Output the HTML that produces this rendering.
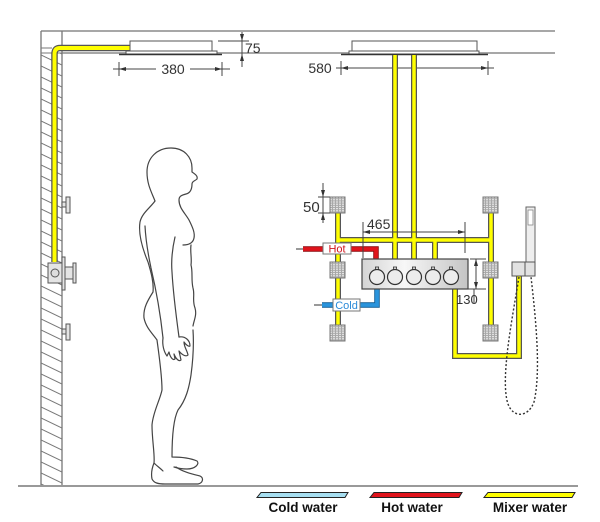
<!DOCTYPE html>
<html><head><meta charset="utf-8"><style>
html,body{margin:0;padding:0;background:#fff;}
svg{display:block;}
text{font-family:"Liberation Sans",Arial,sans-serif;}
</style></head><body>
<svg width="600" height="522" viewBox="0 0 600 522" xmlns="http://www.w3.org/2000/svg">
<defs>
<clipPath id="wallclip"><rect x="41" y="53" width="21" height="433"/></clipPath>
<linearGradient id="vg" x1="0" y1="0" x2="1" y2="0">
<stop offset="0" stop-color="#d4d4d4"/><stop offset="0.4" stop-color="#f7f7f7"/><stop offset="1" stop-color="#c4c4c4"/>
</linearGradient>
<pattern id="jetp" x="0" y="0" width="3" height="2.2" patternUnits="userSpaceOnUse">
<rect width="3" height="2.2" fill="#a8a8a8"/><rect width="2" height="1.2" fill="#e6e6e6"/>
</pattern>
<g id="jet"><rect x="0" y="0" width="15" height="16" fill="url(#jetp)" stroke="#777" stroke-width="1"/></g>
<g id="knob"><rect x="-1.6" y="-10" width="3.2" height="3" fill="#ddd" stroke="#333" stroke-width="0.8"/><circle cx="0" cy="0" r="7.5" fill="#ececec" stroke="#333" stroke-width="1.2"/></g>
</defs>

<!-- ceiling -->
<line x1="41" y1="31" x2="555" y2="31" stroke="#8a8a8a" stroke-width="1.5"/>
<line x1="62" y1="53" x2="555" y2="53" stroke="#8a8a8a" stroke-width="1.5"/>
<!-- wall -->
<line x1="41" y1="31" x2="41" y2="486" stroke="#777" stroke-width="1.3"/>
<line x1="62" y1="31" x2="62" y2="486" stroke="#777" stroke-width="1.3"/>
<line x1="41" y1="48" x2="52" y2="48" stroke="#777" stroke-width="1"/>
<line x1="41" y1="53" x2="62" y2="53" stroke="#777" stroke-width="1"/>
<g clip-path="url(#wallclip)" stroke="#777" stroke-width="1">
<line x1="41" y1="44" x2="62" y2="54"/><line x1="41" y1="55" x2="62" y2="65"/><line x1="41" y1="66" x2="62" y2="76"/><line x1="41" y1="77" x2="62" y2="87"/><line x1="41" y1="88" x2="62" y2="98"/><line x1="41" y1="99" x2="62" y2="109"/><line x1="41" y1="110" x2="62" y2="120"/><line x1="41" y1="121" x2="62" y2="131"/><line x1="41" y1="132" x2="62" y2="142"/><line x1="41" y1="143" x2="62" y2="153"/><line x1="41" y1="154" x2="62" y2="164"/><line x1="41" y1="165" x2="62" y2="175"/><line x1="41" y1="176" x2="62" y2="186"/><line x1="41" y1="187" x2="62" y2="197"/><line x1="41" y1="198" x2="62" y2="208"/><line x1="41" y1="209" x2="62" y2="219"/><line x1="41" y1="220" x2="62" y2="230"/><line x1="41" y1="231" x2="62" y2="241"/><line x1="41" y1="242" x2="62" y2="252"/><line x1="41" y1="253" x2="62" y2="263"/><line x1="41" y1="264" x2="62" y2="274"/><line x1="41" y1="275" x2="62" y2="285"/><line x1="41" y1="286" x2="62" y2="296"/><line x1="41" y1="297" x2="62" y2="307"/><line x1="41" y1="308" x2="62" y2="318"/><line x1="41" y1="319" x2="62" y2="329"/><line x1="41" y1="330" x2="62" y2="340"/><line x1="41" y1="341" x2="62" y2="351"/><line x1="41" y1="352" x2="62" y2="362"/><line x1="41" y1="363" x2="62" y2="373"/><line x1="41" y1="374" x2="62" y2="384"/><line x1="41" y1="385" x2="62" y2="395"/><line x1="41" y1="396" x2="62" y2="406"/><line x1="41" y1="407" x2="62" y2="417"/><line x1="41" y1="418" x2="62" y2="428"/><line x1="41" y1="429" x2="62" y2="439"/><line x1="41" y1="440" x2="62" y2="450"/><line x1="41" y1="451" x2="62" y2="461"/><line x1="41" y1="462" x2="62" y2="472"/><line x1="41" y1="473" x2="62" y2="483"/><line x1="41" y1="484" x2="62" y2="494"/>
</g>
<!-- floor -->
<line x1="18" y1="486" x2="578" y2="486" stroke="#999" stroke-width="2"/>

<!-- wall pipe -->
<path d="M130,48 L60,48 Q54.5,48 54.5,54 L54.5,262" fill="none" stroke="#555" stroke-width="6.5"/>
<path d="M130,48 L60,48 Q54.5,48 54.5,54 L54.5,262" fill="none" stroke="#ffff00" stroke-width="4"/>

<!-- wall fixtures -->
<g fill="#e4e4e4" stroke="#555" stroke-width="1">
<rect x="62" y="202" width="4" height="5"/><rect x="66" y="197" width="4" height="16"/>
<rect x="62" y="329" width="4" height="5"/><rect x="66" y="324" width="4" height="16"/>
<rect x="48" y="263" width="14" height="20"/>
<rect x="62" y="257" width="3" height="33"/>
<rect x="65" y="267" width="8" height="12"/>
<rect x="73" y="263" width="3" height="20"/>
</g>
<circle cx="55" cy="273" r="4" fill="#ddd" stroke="#555" stroke-width="1"/>

<!-- shower heads -->
<g fill="#fff" stroke="#555" stroke-width="1">
<rect x="130" y="41" width="82" height="10"/>
<rect x="126" y="51" width="91" height="3"/>
<rect x="352" y="41" width="125" height="10"/>
<rect x="349" y="51" width="130" height="3"/>
</g>
<line x1="119" y1="54.5" x2="222" y2="54.5" stroke="#333" stroke-width="1.5"/>
<line x1="341" y1="54.5" x2="488" y2="54.5" stroke="#333" stroke-width="1.5"/>

<!-- dimensions top -->
<g stroke="#444" stroke-width="1" fill="none">
<line x1="113" y1="69" x2="156" y2="69"/><line x1="190" y1="69" x2="230" y2="69"/>
<line x1="119" y1="62" x2="119" y2="76"/><line x1="222" y1="62" x2="222" y2="76"/>
<line x1="218" y1="41" x2="249" y2="41"/>
<line x1="242" y1="32" x2="242" y2="67"/>
<line x1="336" y1="68" x2="494" y2="68"/>
<line x1="341" y1="61" x2="341" y2="75"/><line x1="488" y1="61" x2="488" y2="75"/>
</g>
<g fill="#333">
<polygon points="119,69 126,67 126,71"/><polygon points="222,69 215,67 215,71"/>
<polygon points="341,68 348,66 348,70"/><polygon points="488,68 481,66 481,70"/>
<polygon points="242,41 240,34 244,34"/><polygon points="242,54 240,61 244,61"/>
</g>
<text x="173" y="74" font-size="14" fill="#333" text-anchor="middle">380</text>
<text x="245" y="53" font-size="14" fill="#333">75</text>
<text x="320" y="73" font-size="14" fill="#333" text-anchor="middle">580</text>

<!-- human figure -->
<g fill="none" stroke="#444" stroke-width="1.2" stroke-linecap="round" stroke-linejoin="round">
<path d="M155,201 C152,193 147,185 147,172 C147,158 157,148 171,148 C184,148 192,157 192,168 L192,172 C195,174 198,176 197,179 C195,181 192,181 192,184 C192,190 190,193 186,194 C182,195 179,196 179,200 C179,208 185,213 189,220 C193,228 195,233 194,238 C193,243 189,245 183,245"/>
<path d="M191,245 C190,252 192,258 191,265 C193,272 191,280 193,288 C195,295 192,300 195,308 C197,315 194,320 193,326"/>
<path d="M155,201 C150,208 142,213 140,222 C138,235 143,250 148,262 C151,272 154,283 153,292 C148,300 143,308 144,318 C146,328 153,334 157,340 C159,355 162,375 162,390 C160,400 153,412 152,425 C152,440 155,455 154,463 C152,468 151,474 152,479 C154,483 158,484 165,484 L198,484 C203,483 204,478 200,476 C192,474 183,472 176,467"/>
<path d="M193,330 C194,345 193,360 191,375 C189,388 186,400 178,410 C173,420 172,440 172,457 C180,457 190,458 197,461 C200,464 195,469 187,469 C182,469 177,468 174,467"/>
<path d="M154,463 C157,466 160,468 163,471"/>
<path d="M145,226 C146,245 149,258 151,268 C155,285 160,310 163,338"/>
<path d="M175,237 C172,250 171,260 172,272 C173,290 176,315 179,337"/>
<path d="M163,338 C162,345 164,352 167,356 L169,352 C170,357 173,361 175,359 L174,354 C176,359 179,362 181,360 L179,351 C182,355 186,357 188,355 C187,350 184,347 184,342 C186,345 189,347 190,346 C190,340 185,336 179,337"/>
</g>

<!-- yellow pipes (outline) -->
<g fill="none" stroke="#555" stroke-width="6" stroke-linejoin="miter">
<line x1="338" y1="213" x2="338" y2="325"/>
<line x1="491" y1="213" x2="491" y2="325"/>
<line x1="338" y1="240" x2="491" y2="240"/>
<line x1="395" y1="55" x2="395" y2="260"/>
<line x1="414" y1="55" x2="414" y2="260"/>
<line x1="435" y1="240" x2="435" y2="260"/>
<polyline points="455,288 455,356 519,356 519,275"/>
</g>
<g fill="none" stroke="#ffff00" stroke-width="3.5" stroke-linejoin="miter">
<line x1="338" y1="213" x2="338" y2="325"/>
<line x1="491" y1="213" x2="491" y2="325"/>
<line x1="338" y1="240" x2="491" y2="240"/>
<line x1="395" y1="55" x2="395" y2="260"/>
<line x1="414" y1="55" x2="414" y2="260"/>
<line x1="435" y1="240" x2="435" y2="260"/>
<polyline points="455,288 455,356 519,356 519,275"/>
</g>

<!-- hot / cold -->
<line x1="296" y1="249" x2="304" y2="249" stroke="#333" stroke-width="1"/>
<line x1="314" y1="305" x2="322" y2="305" stroke="#333" stroke-width="1"/>
<polyline points="303,249 376,249 376,260" fill="none" stroke="#8a0a0e" stroke-width="5.5"/>
<polyline points="303,249 376,249 376,260" fill="none" stroke="#e0141c" stroke-width="3.8"/>
<polyline points="322,305 377,305 377,288" fill="none" stroke="#115a90" stroke-width="5.5"/>
<polyline points="322,305 377,305 377,288" fill="none" stroke="#2a94dc" stroke-width="3.8"/>

<!-- jets -->
<use href="#jet" x="330" y="197"/><use href="#jet" x="330" y="262"/><use href="#jet" x="330" y="325"/>
<use href="#jet" x="483" y="197"/><use href="#jet" x="483" y="262"/><use href="#jet" x="483" y="325"/>

<!-- labels -->
<rect x="323" y="243" width="28" height="11" fill="#fff" stroke="#777" stroke-width="1"/>
<text x="337" y="252.5" font-size="11" fill="#d0141c" text-anchor="middle">Hot</text>
<rect x="333" y="299" width="27" height="12" fill="#fff" stroke="#777" stroke-width="1"/>
<text x="346.5" y="309" font-size="11" fill="#2a8ad8" text-anchor="middle">Cold</text>

<!-- valve -->
<rect x="362" y="259" width="106" height="30" fill="url(#vg)" stroke="#444" stroke-width="1.2"/>
<use href="#knob" x="377" y="277"/><use href="#knob" x="395" y="277"/><use href="#knob" x="414" y="277"/><use href="#knob" x="433" y="277"/><use href="#knob" x="451" y="277"/>

<!-- dimensions right -->
<g stroke="#444" stroke-width="1" fill="none">
<line x1="323" y1="183" x2="323" y2="223"/>
<line x1="318" y1="197" x2="330" y2="197"/><line x1="318" y1="213" x2="330" y2="213"/>
<line x1="363" y1="222" x2="363" y2="258"/><line x1="465" y1="222" x2="465" y2="253"/>
<line x1="363" y1="232" x2="465" y2="232"/>
<line x1="476" y1="259" x2="476" y2="289"/>
<line x1="470" y1="259" x2="486" y2="259"/><line x1="458" y1="289" x2="486" y2="289"/>
<line x1="474" y1="289" x2="474" y2="303"/>
</g>
<g fill="#333">
<polygon points="323,197 321,190 325,190"/><polygon points="323,213 321,220 325,220"/>
<polygon points="363,232 370,230 370,234"/><polygon points="465,232 458,230 458,234"/>
<polygon points="476,259 474,266 478,266"/><polygon points="476,289 474,282 478,282"/>
</g>
<text x="303" y="212" font-size="15" fill="#333">50</text>
<text x="367" y="229" font-size="14" fill="#333">465</text>
<text x="456" y="304" font-size="13" fill="#333">130</text>

<!-- hand shower -->
<rect x="526" y="207" width="9" height="56" fill="#eee" stroke="#666" stroke-width="1"/>
<rect x="528" y="210" width="5" height="15" fill="#fff" stroke="#888" stroke-width="0.8"/>
<rect x="512" y="262" width="13" height="14" fill="#e2e2e2" stroke="#555" stroke-width="1"/>
<rect x="525" y="262" width="10" height="14" fill="#e2e2e2" stroke="#555" stroke-width="1"/>
<path d="M519,277 C512,320 500,380 508,404 C513,418 528,418 534,402 C541,372 536,320 531,277" fill="none" stroke="#333" stroke-width="1.4" stroke-dasharray="2,2"/>

<!-- legend -->
<polygon points="261,492.5 348,492.5 345,497.5 257,497.5" fill="#a6def0" stroke="#222" stroke-width="1"/>
<polygon points="374,492.5 462,492.5 459,497.5 370,497.5" fill="#e0141c" stroke="#222" stroke-width="1"/>
<polygon points="488,492.5 575,492.5 572,497.5 484,497.5" fill="#ffff00" stroke="#222" stroke-width="1"/>
<g font-size="13.5" font-weight="bold" fill="#111" text-anchor="middle">
<text x="303" y="512">Cold water</text>
<text x="412" y="512">Hot water</text>
<text x="530" y="512">Mixer water</text>
</g>
</svg>
</body></html>
